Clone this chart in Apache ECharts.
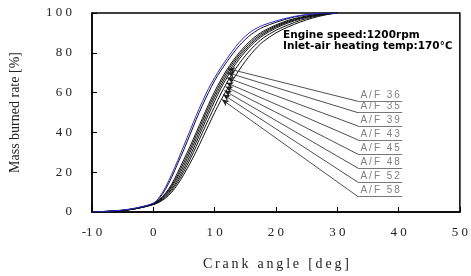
<!DOCTYPE html>
<html>
<head>
<meta charset="utf-8">
<script src="https://cdn.jsdelivr.net/npm/echarts@6/dist/echarts.min.js"></script>
<style>
  html, body { margin: 0; padding: 0; background: #fff; }
  #chart { width: 471px; height: 276px; }
</style>
</head>
<body>
<div id="chart"></div>
<script>
// crank angle [deg]
const angles = [-10, -8, -6, -4, -2, 0, 1, 2, 3, 4, 5, 6, 7, 8, 9, 10, 11, 12, 13, 14, 15, 16, 17, 18, 20, 22, 24, 26, 28, 30]

// mass burned rate [%], one array per A/F
const af36 = [0, 0.3, 0.7, 1.4, 2.6, 4.5, 7.5, 12.5, 19, 26, 33.5, 41, 48.5, 55.5, 62, 67.5, 72.5, 77, 81.3, 85.2, 88.3, 90.8, 92.6, 94, 96, 97.6, 98.8, 99.5, 100, 100]
const af35 = [0, 0.3, 0.6, 1.3, 2.5, 4.3, 7, 11.5, 17.5, 24.5, 31.5, 39, 46.5, 53.5, 60, 66, 71, 75.5, 79.7, 83.5, 86.7, 89.3, 91.4, 93, 95.3, 97.2, 98.6, 99.4, 100, 100]
const af39 = [0, 0.25, 0.6, 1.2, 2.4, 4.2, 6.3, 9.5, 14, 20, 26.5, 33, 40, 47, 54, 60.5, 66.3, 71.5, 76, 80, 83.5, 86.5, 89, 91, 94, 96.3, 97.9, 99, 99.7, 100]
const af43 = [0, 0.25, 0.55, 1.2, 2.3, 4.1, 6, 9, 13.2, 18.8, 25, 31.5, 38.5, 45.5, 52.5, 59, 65, 70.3, 75, 79, 82.5, 85.5, 88.2, 90.3, 93.5, 95.9, 97.6, 98.8, 99.6, 100]
const af45 = [0, 0.2, 0.55, 1.15, 2.3, 4, 5.8, 8.5, 12.5, 17.6, 23.5, 30, 36.8, 43.8, 50.8, 57.5, 63.5, 69, 73.8, 78, 81.5, 84.7, 87.4, 89.6, 93, 95.5, 97.3, 98.6, 99.5, 100]
const af48 = [0, 0.2, 0.5, 1.1, 2.2, 3.9, 5.5, 8, 11.6, 16.3, 22, 28.2, 35, 42, 49, 55.7, 62, 67.5, 72.5, 76.8, 80.5, 83.8, 86.6, 88.9, 92.4, 95, 97, 98.4, 99.4, 100]
const af52 = [0, 0.2, 0.5, 1.1, 2.2, 3.8, 5.2, 7.5, 10.8, 15.2, 20.5, 26.5, 33, 39.8, 46.5, 53, 59.3, 65, 70, 74.5, 78.5, 82, 85, 87.6, 91.3, 94, 96.3, 98, 99.2, 100]
const af58 = [0, 0.2, 0.5, 1.1, 2.2, 3.7, 5, 7, 10, 14, 19, 24.5, 30.5, 37, 43.5, 50, 56, 61.5, 66.5, 71.3, 75.7, 79.6, 83, 85.8, 90, 93, 95.5, 97.5, 99, 100]

const xTicks = { min: -10, max: 50, interval: 10 }
const yTicks = { min: 0, max: 100, interval: 20 }

// leader annotations (data coords): label row and arrow tip
const afNames = ['A/F 36', 'A/F 35', 'A/F 39', 'A/F 43', 'A/F 45', 'A/F 48', 'A/F 52', 'A/F 58']
const labelRowY = [55.6, 49.9, 43.2, 36.2, 29, 22, 14.9, 7.7]
const labelX0 = 33.4
const labelX1 = 40.6
const tipX = [12.2, 12.1, 12.0, 11.9, 11.8, 11.6, 11.4, 11.2]
const tipY = [72, 70, 67.5, 65, 63, 61, 59, 56.5]

const allSeries = [af36, af35, af39, af43, af45, af48, af52, af58]

const serif = '"Liberation Serif", "DejaVu Serif", serif'
const spaced = (s, sep) => String(s).split('').join(sep)

const chart = echarts.init(document.getElementById('chart'))

const markData = []
afNames.forEach((n, i) => {
  markData.push([
    { coord: [labelX0, labelRowY[i]], symbol: 'none',
      lineStyle: { color: '#555' },
      label: { show: true, position: 'insideMiddleTop', formatter: spaced(n, '\u2009'),
        color: '#808080', fontSize: 10, fontFamily: 'Arial, "Liberation Sans", sans-serif', distance: 1 } },
    { coord: [labelX1, labelRowY[i]], symbol: 'none' }
  ])
  markData.push([
    { coord: [labelX0, labelRowY[i]], symbol: 'none' },
    { coord: [tipX[i], tipY[i]], symbol: 'arrow', symbolSize: [5, 7] }
  ])
})

const series = allSeries.map((d, i) => ({
  name: afNames[i],
  type: 'line',
  data: angles.map((a, j) => [a, d[j]]),
  smooth: 0.35,
  showSymbol: false,
  silent: true,
  z: i === 0 ? 5 : 3,
  lineStyle: { color: i === 0 ? '#2a2ad8' : '#111', width: 1 }
}))

series.push({
  type: 'line',
  data: [],
  silent: true,
  markLine: {
    silent: true,
    animation: false,
    symbol: ['none', 'none'],
    lineStyle: { color: '#222', width: 0.8, type: 'solid' },
    label: { show: false },
    emphasis: { disabled: true },
    data: markData
  }
})

chart.setOption({
  animation: false,
  grid: {
    left: 90, right: 8, top: 13, bottom: 63,
    show: true, borderColor: '#000', borderWidth: 1.5
  },
  xAxis: {
    type: 'value',
    ...xTicks,
    name: spaced('Crank angle [deg]', '\u2009'),
    nameLocation: 'middle',
    nameGap: 45,
    nameTextStyle: { fontFamily: serif, fontSize: 14, color: '#222' },
    axisLine: { onZero: false, lineStyle: { color: '#000', width: 1.5 } },
    axisTick: { inside: true, length: 5, lineStyle: { color: '#000' } },
    axisLabel: { formatter: v => spaced(v, ' ').replace('- ', '-'), fontFamily: serif, fontSize: 13, color: '#222', margin: 14 },
    splitLine: { show: false }
  },
  yAxis: {
    type: 'value',
    ...yTicks,
    name: 'Mass burned rate [%]',
    nameLocation: 'middle',
    nameGap: 70,
    nameTextStyle: { fontFamily: serif, fontSize: 14, color: '#222' },
    axisLine: { show: true, onZero: false, lineStyle: { color: '#000', width: 1.5 } },
    axisTick: { show: true, inside: true, length: 5, lineStyle: { color: '#000' } },
    axisLabel: { formatter: v => spaced(v, ' '), fontFamily: serif, fontSize: 13, color: '#222', margin: 20 },
    splitLine: { show: false }
  },
  graphic: [
    { type: 'text', left: 283, top: 30,
      style: { text: 'Engine speed:1200rpm', font: 'bold 10.5px "DejaVu Sans", sans-serif', fill: '#000' } },
    { type: 'text', left: 283, top: 41,
      style: { text: 'Inlet-air heating temp:170\u2103', font: 'bold 10.5px "DejaVu Sans", sans-serif', fill: '#000' } }
  ],
  series
})
</script>
</body>
</html>
